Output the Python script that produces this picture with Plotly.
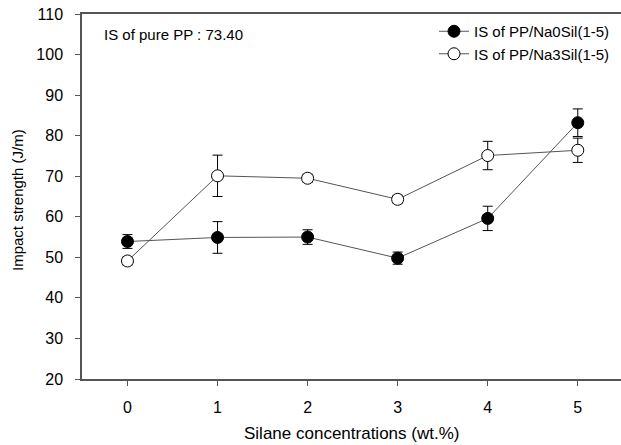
import plotly.graph_objects as go

x_vals = [0, 1, 2, 3, 4, 5]
na0_vals = [53.9, 54.9, 55.0, 49.8, 59.6, 83.2]
na0_err = [1.7, 3.9, 1.8, 1.5, 3.0, 3.4]
na3_vals = [49.1, 70.1, 69.5, 64.3, 75.1, 76.4]
na3_err = [1.0, 5.1, 1.0, 1.0, 3.5, 3.0]
series_names = ["IS of PP/Na0Sil(1-5)", "IS of PP/Na3Sil(1-5)"]
y_ticks = [20, 30, 40, 50, 60, 70, 80, 90, 100, 110]
note_text = "IS of pure PP : 73.40"
x_title = "Silane concentrations (wt.%)"
y_title = "Impact strength (J/m)"

FONT = "Liberation Sans, Arial, sans-serif"
L, R, T, B = 82, 0, 14, 66
W, H = 621, 445
PW, PH = W - L - R, H - T - B

fig = go.Figure()
fig.add_trace(go.Scatter(
    x=x_vals, y=na0_vals, name=series_names[0], mode="lines+markers",
    line=dict(color="#555555", width=1),
    marker=dict(symbol="circle", size=12, color="black", line=dict(color="black", width=1)),
    error_y=dict(type="data", array=na0_err, visible=True, color="black", thickness=1, width=5),
))
fig.add_trace(go.Scatter(
    x=x_vals, y=na3_vals, name=series_names[1], mode="lines+markers",
    line=dict(color="#555555", width=1),
    marker=dict(symbol="circle", size=12, color="white", line=dict(color="black", width=1)),
    error_y=dict(type="data", array=na3_err, visible=True, color="black", thickness=1, width=5),
))

fig.add_annotation(
    text=note_text, xref="paper", yref="paper",
    x=(102 - L) / PW, y=(T + PH - 34) / PH, xanchor="left", yanchor="middle",
    showarrow=False, font=dict(family=FONT, size=15, color="black"),
)
fig.add_annotation(
    text=x_title, xref="paper", yref="paper",
    x=0.5, y=(T + PH - 433) / PH, xanchor="center", yanchor="middle",
    showarrow=False, font=dict(family=FONT, size=17, color="black"),
)
fig.add_annotation(
    text=y_title, xref="paper", yref="paper", textangle=-90,
    x=(17 - L) / PW, y=(T + PH - 200) / PH, xanchor="center", yanchor="middle",
    showarrow=False, font=dict(family=FONT, size=15, color="black"),
)

fig.update_layout(
    width=W, height=H,
    margin=dict(l=L, r=R, t=T, b=B, autoexpand=False),
    paper_bgcolor="white", plot_bgcolor="white",
    font=dict(family=FONT, size=15, color="black"),
    showlegend=True,
    legend=dict(
        x=(434 - L) / PW, y=(T + PH - 15) / PH, xanchor="left", yanchor="top",
        bgcolor="rgba(0,0,0,0)", font=dict(family=FONT, size=15, color="black"),
        tracegroupgap=0, itemwidth=30,
    ),
    xaxis=dict(
        range=[-0.505, 5.48], tickvals=x_vals, ticktext=[str(v) for v in x_vals],
        showgrid=False, zeroline=False, showline=True, linecolor="#555555", linewidth=1.5,
        mirror=True, ticks="outside", ticklen=5, tickcolor="#555555",
        tickfont=dict(family=FONT, size=16), ticklabelstandoff=8, automargin=False,
    ),
    yaxis=dict(
        range=[20, 110], tickvals=y_ticks,
        showgrid=False, zeroline=False, showline=True, linecolor="#555555", linewidth=1.5,
        ticks="outside", ticklen=5, tickcolor="#555555",
        tickfont=dict(family=FONT, size=16), ticklabelstandoff=9, automargin=False,
    ),
)

fig.write_html(
    "out.html",
    config={"displayModeBar": False},
    post_script="document.body.style.margin='0';document.body.style.padding='0';",
)
